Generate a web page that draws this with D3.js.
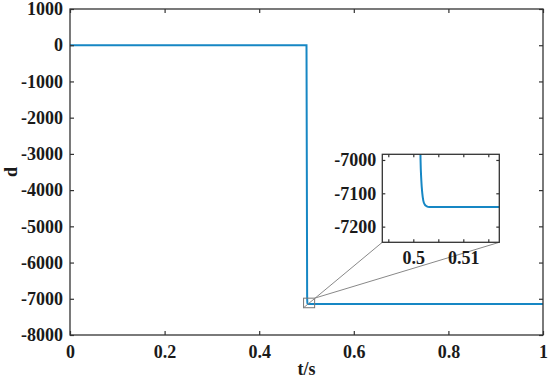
<!DOCTYPE html>
<html>
<head>
<meta charset="utf-8">
<script src="https://cdn.jsdelivr.net/npm/d3@7"></script>
<style>
  body { margin: 0; background: #fff; }
  svg text { font-family: "Liberation Serif", "Times New Roman", serif; font-weight: bold; fill: #1a1a1a; }
</style>
</head>
<body>
<svg id="chart" width="550" height="383"></svg>
<script>
// response d(t): flat at 0, step at t = 0.5 down to about -7140
var tData = [0, 0.5, 0.50135, 0.50145, 0.5016, 0.5018, 0.502, 0.5023, 0.5027, 0.5032, 1];
var dData = [0, 0, -6900, -7000, -7060, -7100, -7122, -7134, -7139, -7141, -7141];

var xTicks = [0, 0.2, 0.4, 0.6, 0.8, 1];
var yTicks = [1000, 0, -1000, -2000, -3000, -4000, -5000, -6000, -7000, -8000];
var zoomXTicks = [0.495, 0.5, 0.505, 0.51, 0.515];
var zoomXLabels = [0.5, 0.51];
var zoomYTicks = [-7000, -7100, -7200];
var zoomXDomain = [0.4938, 0.5172];
var zoomYDomain = [-7247, -6983];

var lineColor = "#1687c4";
var axisColor = "#333";
var fontSize = 18;
var points = tData.map(function (t, i) { return [t, dData[i]]; });

// plain hyphen for negatives, like the original figure
var plain = function (d) { return String(d); };

var svg = d3.select("#chart");

// main plot
var box = { left: 70, right: 543, top: 9, bottom: 335 };
var x = d3.scaleLinear().domain([0, 1]).range([box.left, box.right]);
var y = d3.scaleLinear().domain([-8000, 1000]).range([box.bottom, box.top]);

var line = d3.line()
  .x(function (d) { return x(d[0]); })
  .y(function (d) { return y(d[1]); })
  .curve(d3.curveMonotoneX);

svg.append("path")
  .datum(points)
  .attr("d", line)
  .attr("fill", "none")
  .attr("stroke", lineColor)
  .attr("stroke-width", 2);

function styleAxis(g) {
  g.attr("font-family", null).attr("font-size", null);
  g.select(".domain").remove();
  g.selectAll(".tick line").attr("stroke", axisColor).attr("stroke-width", 1.2);
  g.selectAll(".tick text").style("font-size", fontSize + "px");
}

svg.append("g")
  .attr("transform", "translate(0," + box.bottom + ")")
  .call(d3.axisBottom(x).tickValues(xTicks).tickSize(-4).tickPadding(10).tickFormat(plain))
  .call(styleAxis);
svg.append("g")
  .attr("transform", "translate(0," + box.top + ")")
  .call(d3.axisTop(x).tickValues(xTicks).tickSize(-4).tickFormat(""))
  .call(styleAxis);
svg.append("g")
  .attr("transform", "translate(" + box.left + ",0)")
  .call(d3.axisLeft(y).tickValues(yTicks).tickSize(-4).tickPadding(7).tickFormat(plain))
  .call(styleAxis);
svg.append("g")
  .attr("transform", "translate(" + box.right + ",0)")
  .call(d3.axisRight(y).tickValues(yTicks).tickSize(-4).tickFormat(""))
  .call(styleAxis);

svg.append("rect")
  .attr("x", box.left).attr("y", box.top)
  .attr("width", box.right - box.left).attr("height", box.bottom - box.top)
  .attr("fill", "none").attr("stroke", axisColor).attr("stroke-width", 1.3);

svg.append("text")
  .attr("x", (box.left + box.right) / 2).attr("y", 375)
  .attr("text-anchor", "middle").style("font-size", fontSize + "px")
  .text("t/s");
svg.append("text")
  .attr("transform", "translate(17," + (box.top + box.bottom) / 2 + ") rotate(-90)")
  .attr("text-anchor", "middle").style("font-size", fontSize + "px")
  .text("d");

// zoom rectangle in the main plot
var zx0 = x(zoomXDomain[0]), zx1 = x(zoomXDomain[1]);
var zy0 = y(zoomYDomain[1]), zy1 = y(zoomYDomain[0]);
svg.append("rect")
  .attr("x", zx0).attr("y", zy0)
  .attr("width", zx1 - zx0).attr("height", zy1 - zy0)
  .attr("fill", "none").attr("stroke", "#777").attr("stroke-width", 1);

// inset
var inset = { left: 382.3, right: 499.3, top: 154.3, bottom: 242.3 };
var ix = d3.scaleLinear().domain(zoomXDomain).range([inset.left, inset.right]);
var iy = d3.scaleLinear().domain(zoomYDomain).range([inset.bottom, inset.top]);

svg.append("line")
  .attr("x1", zx0).attr("y1", zy1).attr("x2", inset.left).attr("y2", inset.bottom)
  .attr("stroke", "#888").attr("stroke-width", 1);
svg.append("line")
  .attr("x1", zx1).attr("y1", zy0).attr("x2", inset.right).attr("y2", inset.bottom)
  .attr("stroke", "#888").attr("stroke-width", 1);

svg.append("rect")
  .attr("x", inset.left).attr("y", inset.top)
  .attr("width", inset.right - inset.left).attr("height", inset.bottom - inset.top)
  .attr("fill", "#fff");

svg.append("clipPath").attr("id", "insetClip")
  .append("rect")
  .attr("x", inset.left).attr("y", inset.top)
  .attr("width", inset.right - inset.left).attr("height", inset.bottom - inset.top);

var insetLine = d3.line()
  .x(function (d) { return ix(d[0]); })
  .y(function (d) { return iy(d[1]); })
  .curve(d3.curveMonotoneX);

svg.append("path")
  .datum(points)
  .attr("d", insetLine)
  .attr("clip-path", "url(#insetClip)")
  .attr("fill", "none")
  .attr("stroke", lineColor)
  .attr("stroke-width", 2);

var zoomFmt = function (d) { return zoomXLabels.indexOf(d) >= 0 ? String(d) : ""; };

svg.append("g")
  .attr("transform", "translate(0," + inset.bottom + ")")
  .call(d3.axisBottom(ix).tickValues(zoomXTicks).tickSize(-3).tickPadding(9).tickFormat(zoomFmt))
  .call(styleAxis);
svg.append("g")
  .attr("transform", "translate(0," + inset.top + ")")
  .call(d3.axisTop(ix).tickValues(zoomXTicks).tickSize(-3).tickFormat(""))
  .call(styleAxis);
svg.append("g")
  .attr("transform", "translate(" + inset.left + ",0)")
  .call(d3.axisLeft(iy).tickValues(zoomYTicks).tickSize(-3).tickPadding(6).tickFormat(plain))
  .call(styleAxis);
svg.append("g")
  .attr("transform", "translate(" + inset.right + ",0)")
  .call(d3.axisRight(iy).tickValues(zoomYTicks).tickSize(-3).tickFormat(""))
  .call(styleAxis);

svg.append("rect")
  .attr("x", inset.left).attr("y", inset.top)
  .attr("width", inset.right - inset.left).attr("height", inset.bottom - inset.top)
  .attr("fill", "none").attr("stroke", axisColor).attr("stroke-width", 1.3);
</script>
</body>
</html>
